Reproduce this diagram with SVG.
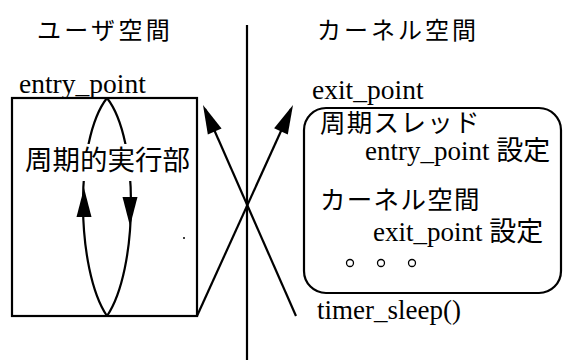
<svg xmlns="http://www.w3.org/2000/svg" xmlns:xlink="http://www.w3.org/1999/xlink" width="563" height="360" viewBox="0 0 563 360">
<style>
.t{font-family:"Liberation Serif","Noto Sans CJK JP",serif;fill:#000}
.j{font-family:"Noto Sans CJK JP","Liberation Serif",sans-serif;fill:#000}
.ln{stroke:#000;stroke-width:2.2;fill:none}
.ah{fill:#000;stroke:none}
</style>
<defs>
<path id="ah" d="M0,0 L-29,-7.5 L-29,7.5 Z"/>
</defs>
<rect width="563" height="360" fill="#fff"/>
<g id="title-user"><text class="j" x="37" y="39" font-size="24" letter-spacing="3.3">ユーザ空間</text></g>
<g id="title-kernel"><text class="j" x="317" y="39" font-size="24" letter-spacing="3">カーネル空間</text></g>
<g id="divider"><line class="ln" x1="247" y1="25" x2="247" y2="360"/></g>
<g id="user-box">
<text class="t" x="19" y="93" font-size="27.5">entry_point</text>
<rect class="ln" x="12" y="98" width="185" height="218"/>
<path class="ln" d="M107,98 C74,140 76,270 107,316"/>
<path class="ln" d="M107,98 C140,140 138,270 107,316"/>
<rect x="22" y="144" width="172" height="37" fill="#fff"/>
<text class="j" x="25" y="170" font-size="27.5">周期的実行部</text>
<use xlink:href="#ah" class="ah" transform="translate(84,188) rotate(-90)"/>
<use xlink:href="#ah" class="ah" transform="translate(130,226) rotate(90)"/>
<circle cx="184" cy="238" r="1" fill="#000"/>
</g>
<g id="kernel-box">
<text class="t" x="312" y="99" font-size="27.5">exit_point</text>
<rect class="ln" x="304" y="108" width="257" height="185" rx="22" ry="22"/>
<text class="j" x="320" y="132" font-size="25.5" letter-spacing="1.3">周期スレッド</text>
<text class="t" x="365" y="160" font-size="27">entry_point 設定</text>
<text class="j" x="320" y="209" font-size="25.5" letter-spacing="1.3">カーネル空間</text>
<text class="t" x="373" y="241" font-size="27">exit_point 設定</text>
<g fill="none" stroke="#000" stroke-width="1.3">
<circle cx="350" cy="263" r="3.5"/><circle cx="381" cy="263" r="3.5"/><circle cx="412" cy="263" r="3.5"/>
</g>
<text class="t" x="317" y="319" font-size="27">timer_sleep()</text>
</g>
<g id="connectors">
<line class="ln" x1="197" y1="316" x2="291" y2="109"/>
<use xlink:href="#ah" class="ah" transform="translate(293,105) rotate(-65.5)"/>
<line class="ln" x1="296" y1="316" x2="205" y2="109"/>
<use xlink:href="#ah" class="ah" transform="translate(203,105) rotate(-113.8)"/>
</g>
</svg>
